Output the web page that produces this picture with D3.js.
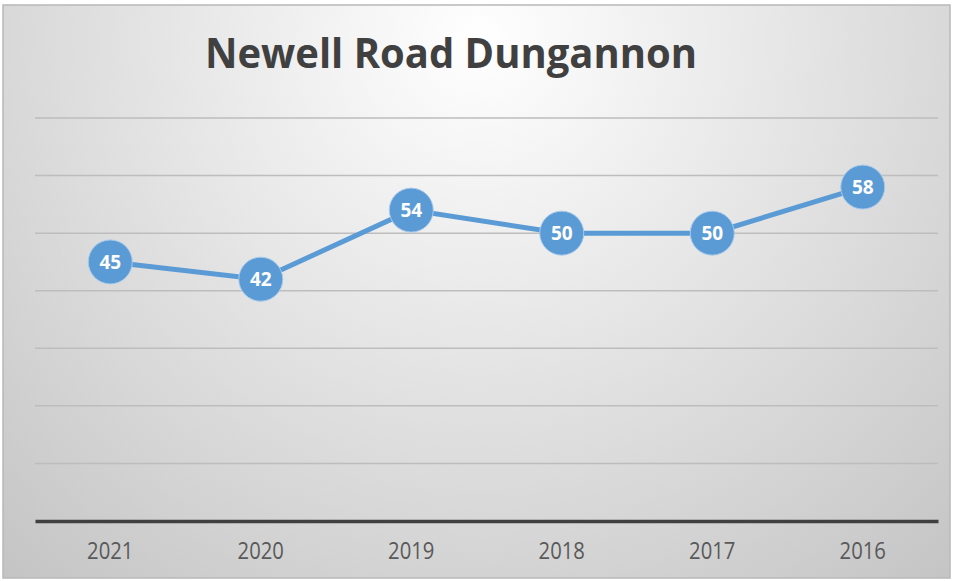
<!DOCTYPE html>
<html>
<head>
<meta charset="utf-8">
<script src="https://cdn.jsdelivr.net/npm/d3@7"></script>
<style>
  html, body { margin: 0; padding: 0; background: #fff; }
  svg { display: block; }
</style>
</head>
<body>
<div id="chart"></div>
<script>
// chart data
var years = ["2021", "2020", "2019", "2018", "2017", "2016"];
var counts = [45, 42, 54, 50, 50, 58];
var gridTicks = [10, 20, 30, 40, 50, 60, 70];

var svgWidth = 954;
var svgHeight = 581;

var margin = { top: 118, right: 16, bottom: 60, left: 35 };
var width = 938 - margin.left;
var height = 521 - margin.top;

var svg = d3.select("#chart")
  .append("svg")
  .attr("width", svgWidth)
  .attr("height", svgHeight);

// background gradient
var defs = svg.append("defs");
var grad = defs.append("radialGradient")
  .attr("id", "bg")
  .attr("gradientUnits", "userSpaceOnUse")
  .attr("cx", 480).attr("cy", 40).attr("r", 720);
grad.append("stop").attr("offset", "0%").attr("stop-color", "#ffffff");
grad.append("stop").attr("offset", "100%").attr("stop-color", "#c4c4c4");

svg.append("rect")
  .attr("x", 3).attr("y", 5)
  .attr("width", 947).attr("height", 573)
  .attr("fill", "url(#bg)")
  .attr("stroke", "#b8b8b8")
  .attr("stroke-width", 1.5);

var chartGroup = svg.append("g")
  .attr("transform", `translate(${margin.left}, ${margin.top})`);

var xScale = d3.scaleBand()
  .domain(years)
  .range([0, width]);

var yScale = d3.scaleLinear()
  .domain([0, 70])
  .range([height, 0]);

// gridlines
chartGroup.selectAll(".grid")
  .data(gridTicks)
  .enter()
  .append("line")
  .attr("x1", 0)
  .attr("x2", width)
  .attr("y1", d => yScale(d))
  .attr("y2", d => yScale(d))
  .attr("stroke", "#bdbdbd")
  .attr("stroke-width", 1.5);

// x axis
var xAxis = chartGroup.append("g")
  .attr("transform", `translate(0, ${height})`)
  .call(d3.axisBottom(xScale).tickSize(0).tickPadding(22));

xAxis.select(".domain")
  .attr("stroke", "#404040")
  .attr("stroke-width", 3.5);

xAxis.selectAll("text")
  .attr("font-family", "'Open Sans', sans-serif")
  .attr("font-size", "23px")
  .attr("fill", "#595959")
  .attr("transform", "scale(0.88,1)");

// line
var line = d3.line()
  .x((d, i) => xScale(years[i]) + xScale.bandwidth() / 2)
  .y(d => yScale(d));

chartGroup.append("path")
  .datum(counts)
  .attr("d", line)
  .attr("fill", "none")
  .attr("stroke", "#5b9bd5")
  .attr("stroke-width", 5);

// markers
chartGroup.selectAll("circle")
  .data(counts)
  .enter()
  .append("circle")
  .attr("cx", (d, i) => xScale(years[i]) + xScale.bandwidth() / 2)
  .attr("cy", d => yScale(d))
  .attr("r", 22)
  .attr("fill", "#5b9bd5")
  .attr("stroke", "#a9cbeb")
  .attr("stroke-width", 1);

// point labels
chartGroup.selectAll(".val")
  .data(counts)
  .enter()
  .append("text")
  .attr("x", (d, i) => xScale(years[i]) + xScale.bandwidth() / 2)
  .attr("y", d => yScale(d))
  .attr("dy", "0.36em")
  .attr("text-anchor", "middle")
  .attr("font-family", "'Open Sans', sans-serif")
  .attr("font-weight", "bold")
  .attr("font-size", "19px")
  .attr("fill", "#ffffff")
  .text(d => d);

// title
svg.append("text")
  .attr("x", 451)
  .attr("y", 68)
  .attr("text-anchor", "middle")
  .attr("font-family", "'Open Sans', sans-serif")
  .attr("font-weight", "bold")
  .attr("font-size", "41px")
  .attr("fill", "#404040")
  .attr("textLength", 492)
  .attr("lengthAdjust", "spacingAndGlyphs")
  .text("Newell Road Dungannon");
</script>
</body>
</html>
